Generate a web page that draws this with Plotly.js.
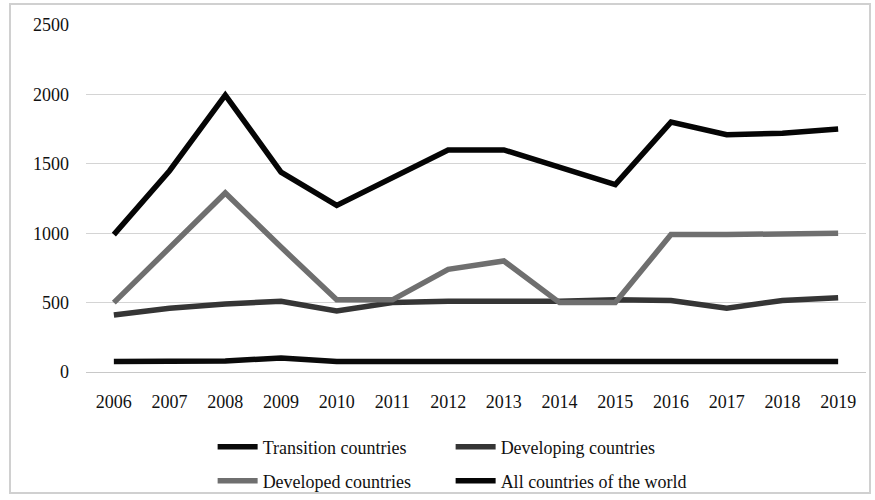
<!DOCTYPE html>
<html>
<head>
<meta charset="utf-8">
<script src="https://cdn.plot.ly/plotly-3.0.1.min.js"></script>
<style>
  html, body { margin: 0; padding: 0; background: #fff; }
  #wrap { position: relative; width: 875px; height: 500px; }
  #chart { width: 875px; height: 500px; }
  #frame { position: absolute; left: 9px; top: 3px; width: 862px; height: 491px;
           border: 2px solid #d0d0d0; pointer-events: none; box-sizing: border-box; }
</style>
</head>
<body>
<div id="wrap">
  <div id="chart"></div>
  <div id="frame"></div>
</div>
<script>
const years = ['2006','2007','2008','2009','2010','2011','2012','2013','2014','2015','2016','2017','2018','2019'];
const transition = [75, 75, 80, 100, 75, 75, 75, 75, 75, 75, 75, 75, 75, 75];
const developing = [410, 460, 490, 510, 440, 500, 510, 510, 510, 520, 515, 460, 515, 535];
const developed  = [500, 900, 1290, 900, 520, 520, 740, 800, 500, 500, 990, 990, 995, 1000];
const allWorld   = [990, 1450, 1995, 1440, 1200, 1400, 1600, 1600, 1470, 1350, 1800, 1710, 1720, 1750];
const seriesNames = ['Transition countries', 'Developing countries', 'Developed countries', 'All countries of the world'];
const yTicks = [0, 500, 1000, 1500, 2000, 2500];

const colors = ['#0a0a0a', '#353535', '#6f6f6f', '#050505'];
const legendIds = ['legend', 'legend2', 'legend3', 'legend4'];
const data = [transition, developing, developed, allWorld].map((v, i) => ({
  type: 'scatter', mode: 'lines', x: years, y: v, name: seriesNames[i],
  legend: legendIds[i],
  line: { color: colors[i], width: 5.5 }
}));

function legendAt(x, y) {
  return {
    orientation: 'h', xref: 'container', yref: 'container',
    x: x, y: y, xanchor: 'left', yanchor: 'middle', itemwidth: 40,
    bgcolor: 'rgba(0,0,0,0)', borderwidth: 0,
    font: { size: 18, color: '#111' }
  };
}
const col1 = 0.243, col2 = 0.515, row1 = 1 - 447 / 500, row2 = 1 - 481 / 500;

const layout = {
  width: 875, height: 500,
  paper_bgcolor: '#ffffff', plot_bgcolor: '#ffffff',
  margin: { l: 86, r: 9, t: 25, b: 128, autoexpand: false },
  font: { family: '"Liberation Serif", "Times New Roman", serif', size: 18, color: '#111' },
  showlegend: true,
  legend: legendAt(col1, row1),
  legend2: legendAt(col2, row1),
  legend3: legendAt(col1, row2),
  legend4: legendAt(col2, row2),
  xaxis: {
    type: 'category', range: [-0.5, 13.5], showgrid: false, zeroline: false,
    showline: false, ticks: '', ticklabelstandoff: 17, tickfont: { size: 18 }, fixedrange: true
  },
  yaxis: {
    range: [0, 2500], tickvals: yTicks, ticktext: yTicks.map(String),
    showgrid: true, gridcolor: '#d4d4d4', gridwidth: 1, zeroline: true,
    zerolinecolor: '#c8c8c8', zerolinewidth: 1, showline: false,
    ticks: '', ticklabelstandoff: 16, tickfont: { size: 18 }, fixedrange: true
  }
};

Plotly.newPlot('chart', data, layout, { displayModeBar: false, staticPlot: true });
</script>
</body>
</html>
